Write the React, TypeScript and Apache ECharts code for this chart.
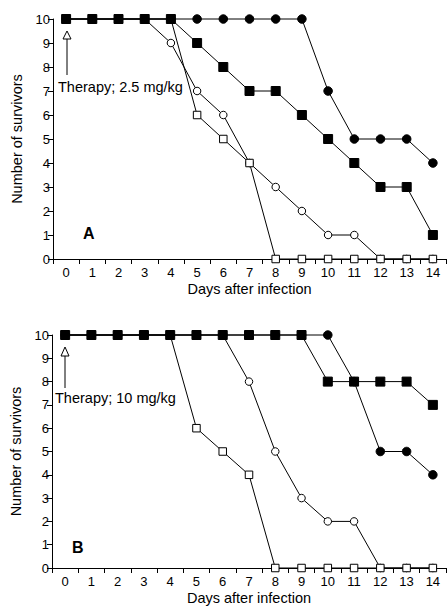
import React, { useEffect, useRef } from "react";
import * as echarts from "echarts";

const days = ["0", "1", "2", "3", "4", "5", "6", "7", "8", "9", "10", "11", "12", "13", "14"];

// Panel A: Therapy 2.5 mg/kg
const aFilledCircle = [10, 10, 10, 10, 10, 10, 10, 10, 10, 10, 7, 5, 5, 5, 4];
const aFilledSquare = [10, 10, 10, 10, 10, 9, 8, 7, 7, 6, 5, 4, 3, 3, 1];
const aOpenCircle = [10, 10, 10, 10, 9, 7, 6, 4, 3, 2, 1, 1, 0, 0, 0];
const aOpenSquare = [10, 10, 10, 10, 10, 6, 5, 4, 0, 0, 0, 0, 0, 0, 0];

// Panel B: Therapy 10 mg/kg
const bFilledCircle = [10, 10, 10, 10, 10, 10, 10, 10, 10, 10, 10, 8, 5, 5, 4];
const bFilledSquare = [10, 10, 10, 10, 10, 10, 10, 10, 10, 10, 8, 8, 8, 8, 7];
const bOpenCircle = [10, 10, 10, 10, 10, 10, 10, 8, 5, 3, 2, 2, 0, 0, 0];
const bOpenSquare = [10, 10, 10, 10, 10, 6, 5, 4, 0, 0, 0, 0, 0, 0, 0];

const FONT = "'Liberation Sans', Arial, Helvetica, sans-serif";

function makeSeries(idx: number, data: number[], kind: string) {
  const filled = kind.startsWith("filled");
  const square = kind.endsWith("Square");
  return {
    type: "line",
    xAxisIndex: idx,
    yAxisIndex: idx,
    data,
    clip: false,
    symbol: square ? "rect" : "circle",
    symbolSize: filled ? (square ? 9 : 8.5) : 7.5,
    lineStyle: { color: "#000", width: 1 },
    itemStyle: {
      color: filled ? "#000" : "#fff",
      borderColor: "#000",
      borderWidth: 1,
      opacity: 1,
    },
    emphasis: { disabled: true },
  };
}

function xAxisFor(idx: number) {
  return {
    type: "category",
    gridIndex: idx,
    data: days,
    boundaryGap: true,
    name: "Days after infection",
    nameLocation: "middle",
    nameGap: 22,
    nameTextStyle: { fontSize: 14.5, color: "#000", fontFamily: FONT },
    axisLine: { show: true, lineStyle: { color: "#000", width: 1 } },
    axisTick: { show: true, interval: 0, length: 5, inside: false, lineStyle: { color: "#000" } },
    axisLabel: { interval: 0, margin: 7, fontSize: 13, color: "#000", fontFamily: FONT },
    splitLine: { show: false },
  };
}

function yAxisFor(idx: number) {
  return {
    type: "value",
    gridIndex: idx,
    min: 0,
    max: 10,
    interval: 1,
    name: "Number of survivors",
    nameLocation: "middle",
    nameGap: 29,
    nameTextStyle: { fontSize: 14.5, color: "#000", fontFamily: FONT },
    axisLine: { show: true, lineStyle: { color: "#000", width: 1 } },
    axisTick: { show: true, length: 5, inside: false, lineStyle: { color: "#000" } },
    axisLabel: { margin: 3, fontSize: 13, color: "#000", fontFamily: FONT },
    splitLine: { show: false },
  };
}

function arrow(x: number, top: number, base: number, bottom: number) {
  return [
    {
      type: "line",
      shape: { x1: x, y1: base, x2: x, y2: bottom },
      style: { stroke: "#000", lineWidth: 1 },
    },
    {
      type: "polygon",
      shape: { points: [[x, top], [x - 4, base], [x + 4, base]] },
      style: { fill: "#fff", stroke: "#000", lineWidth: 1 },
    },
  ];
}

export default function App() {
  const ref = useRef<HTMLDivElement>(null);
  useEffect(() => {
    if (!ref.current) return;
    const chart = echarts.init(ref.current, null, { renderer: "svg" });
    chart.setOption({
      animation: false,
      backgroundColor: "#fff",
      grid: [
        { left: 53, top: 19, width: 393, height: 240 },
        { left: 51, top: 335, width: 395, height: 234 },
      ],
      xAxis: [xAxisFor(0), xAxisFor(1)],
      yAxis: [yAxisFor(0), yAxisFor(1)],
      series: [
        makeSeries(0, aOpenCircle, "openCircle"),
        makeSeries(0, aOpenSquare, "openSquare"),
        makeSeries(0, aFilledCircle, "filledCircle"),
        makeSeries(0, aFilledSquare, "filledSquare"),
        makeSeries(1, bOpenCircle, "openCircle"),
        makeSeries(1, bOpenSquare, "openSquare"),
        makeSeries(1, bFilledCircle, "filledCircle"),
        makeSeries(1, bFilledSquare, "filledSquare"),
      ],
      graphic: [
        ...arrow(67, 31, 39, 75),
        ...arrow(65, 347, 356, 388),
        {
          type: "text",
          left: 58,
          top: 79,
          style: { text: "Therapy; 2.5 mg/kg", fontSize: 14.5, fill: "#000", fontFamily: FONT },
        },
        {
          type: "text",
          left: 55,
          top: 390,
          style: { text: "Therapy; 10 mg/kg", fontSize: 14.5, fill: "#000", fontFamily: FONT },
        },
        {
          type: "text",
          left: 83,
          top: 225,
          style: { text: "A", fontSize: 16, fontWeight: "bold", fill: "#000", fontFamily: FONT },
        },
        {
          type: "text",
          left: 72,
          top: 539,
          style: { text: "B", fontSize: 16, fontWeight: "bold", fill: "#000", fontFamily: FONT },
        },
      ],
    });
    return () => chart.dispose();
  }, []);
  return (
    <div
      ref={ref}
      style={{ position: "fixed", left: 0, top: 0, width: 448, height: 606, background: "#fff" }}
    />
  );
}
